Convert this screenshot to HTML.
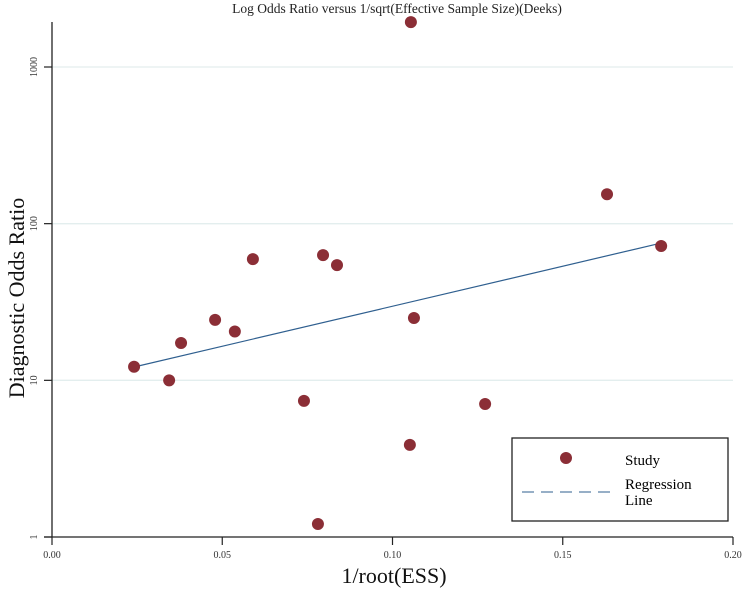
<!DOCTYPE html>
<html><head><meta charset="utf-8"><style>
body{margin:0;background:#fff}
svg text{font-family:"Liberation Serif",serif}
</style></head><body>
<svg id="chart" width="744" height="588" viewBox="0 0 744 588" xmlns="http://www.w3.org/2000/svg">
<text x="397" y="13" font-size="13.5" text-anchor="middle" fill="#222">Log Odds Ratio versus 1/sqrt(Effective Sample Size)(Deeks)</text>
<g id="grid"></g>
<g id="axes"></g>
<g id="marks"></g>
<text transform="translate(24,298) rotate(-90)" font-size="22" text-anchor="middle" fill="#111">Diagnostic Odds Ratio</text>
<text x="394" y="583" font-size="22" text-anchor="middle" fill="#111">1/root(ESS)</text>
<g>
<rect x="512" y="438" width="216" height="83" fill="#fff" stroke="#222" stroke-width="1.3"/>
<circle cx="566" cy="458" r="6" fill="#8b2e36"/>
<text x="625" y="465" font-size="15">Study</text>
<line x1="522" y1="492" x2="611" y2="492" stroke="#2f5f8f" stroke-width="1" stroke-dasharray="12,7"/>
<text x="625" y="489" font-size="15">Regression</text>
<text x="625" y="505" font-size="15">Line</text>
</g>
</svg>
<script>
const xTicks=[0,0.05,0.10,0.15,0.20];
const xTickLabels=["0.00","0.05","0.10","0.15","0.20"];
const yTicks=[1,10,100,1000];
const yTickLabels=["1","10","100","1000"];
const studyX=[0.0241,0.0344,0.0379,0.0479,0.0537,0.0590,0.0740,0.0781,0.0796,0.0837,0.1054,0.1051,0.1063,0.1272,0.1630,0.1789];
const studyY=[12.2,10.0,17.3,24.3,20.5,59.4,7.4,1.21,63,54.4,1935,3.87,25,7.06,154,72];
const regIntercept=0.962;
const regSlope=5.11;
const regRange=[0.0241,0.1789];

const X0=52,X1=733,Y0=537,Y1=67;
const sx=v=>X0+(v-0)/(0.20-0)*(X1-X0);
const sy=v=>Y0-(Math.log10(v)-0)/(3-0)*(Y0-Y1);
const NS="http://www.w3.org/2000/svg";
function mk(t,a,p){const e=document.createElementNS(NS,t);for(const k in a)e.setAttribute(k,a[k]);p.appendChild(e);return e;}
const grid=document.getElementById('grid'),axes=document.getElementById('axes'),marks=document.getElementById('marks');
yTicks.forEach((t,i)=>{
  if(t>1){const g=mk('line',{x1:X0,x2:X1,y1:sy(t),y2:sy(t),stroke:'#e3eeee','stroke-width':1.3},grid);
  
  }
  const tk=mk('line',{x1:X0-8,x2:X0,y1:sy(t),y2:sy(t),stroke:'#222','stroke-width':1.2},axes);
  
  
  const y=sy(t);
  const tx=mk('text',{transform:`translate(37,${y}) rotate(-90)`,'font-size':10,'text-anchor':'middle',fill:'#333'},axes);
  tx.textContent=yTickLabels[i];
  
  
});
xTicks.forEach((t,i)=>{
  const tk=mk('line',{x1:sx(t),x2:sx(t),y1:Y0,y2:Y0+8,stroke:'#222','stroke-width':1.2},axes);
  
  
  const tx=mk('text',{x:sx(t),y:Y0+21,'font-size':10,'text-anchor':'middle',fill:'#333'},axes);
  tx.textContent=xTickLabels[i];
  
  
});
const ya=mk('line',{x1:X0,x2:X0,y1:22,y2:Y0,stroke:'#222','stroke-width':1.3},axes);


const xa=mk('line',{x1:X0-8,x2:X1,y1:Y0,y2:Y0,stroke:'#222','stroke-width':1.3},axes);


const rl=mk('line',{x1:sx(regRange[0]),y1:sy(Math.pow(10,regIntercept+regSlope*regRange[0])),x2:sx(regRange[1]),y2:sy(Math.pow(10,regIntercept+regSlope*regRange[1])),stroke:'#2f5f8f','stroke-width':1.2},marks);


studyX.forEach((x,i)=>{
  const c=mk('circle',{cx:sx(x),cy:sy(studyY[i]),r:6,fill:'#8b2e36'},marks);
  
  
});
</script>
</body></html>
